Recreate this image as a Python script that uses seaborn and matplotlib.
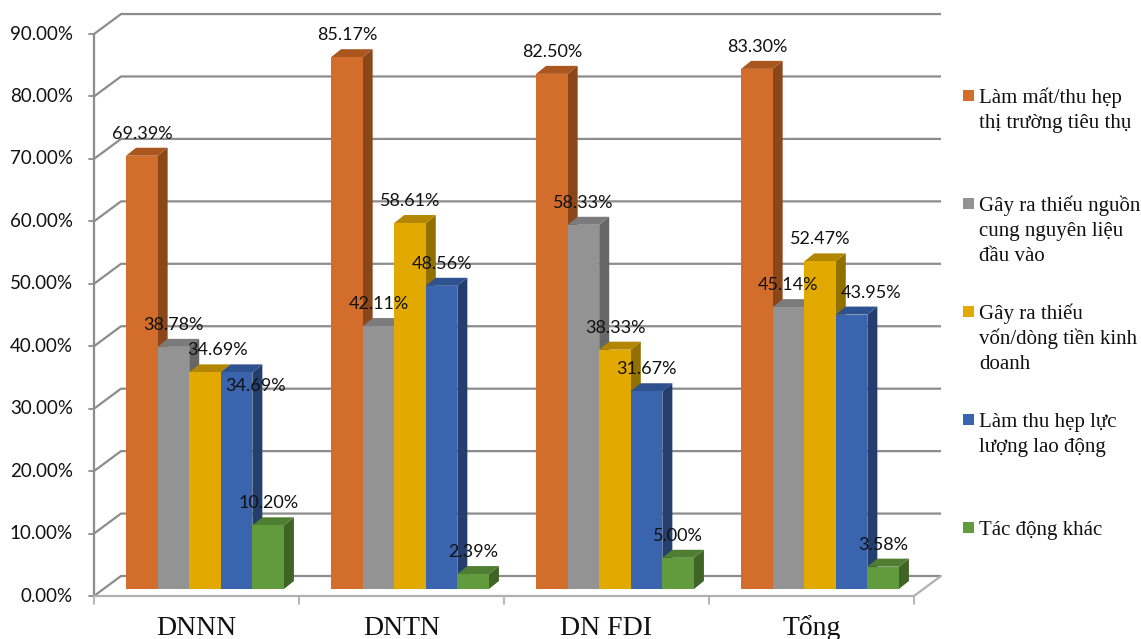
import pandas as pd
import matplotlib
matplotlib.use('Agg')
import matplotlib.pyplot as plt
import seaborn as sns
from matplotlib.patches import Polygon, Rectangle

# Chart data
categories = ['DNNN', 'DNTN', 'DN FDI', 'Tổng']
series_names = [
    'Làm mất/thu hẹp\nthị trường tiêu thụ',
    'Gây ra thiếu nguồn\ncung nguyên liệu\nđầu vào',
    'Gây ra thiếu\nvốn/dòng tiền kinh\ndoanh',
    'Làm thu hẹp lực\nlượng lao động',
    'Tác động khác',
]
mat_thi_truong = [69.39, 85.17, 82.50, 83.30]
thieu_nguyen_lieu = [38.78, 42.11, 58.33, 45.14]
thieu_von = [34.69, 58.61, 38.33, 52.47]
thu_hep_lao_dong = [34.69, 48.56, 31.67, 43.95]
tac_dong_khac = [10.20, 2.39, 5.00, 3.58]
y_ticks = [0, 10, 20, 30, 40, 50, 60, 70, 80, 90]

all_values = [mat_thi_truong, thieu_nguyen_lieu, thieu_von, thu_hep_lao_dong, tac_dong_khac]
df = pd.DataFrame([
    {'cat': c, 'series': s, 'val': v}
    for s, vals in zip(series_names, all_values)
    for c, v in zip(categories, vals)
])

# Colours: front, top, side
front_cols = ['#D26D2B', '#939393', '#E2AA00', '#3A64AE', '#629B3D']
top_cols = ['#A9561F', '#7B7B7B', '#B38600', '#2E5190', '#4F7D31']
side_cols = ['#8B4619', '#666666', '#927000', '#243F6E', '#3F6426']

# Pixel <-> data mapping (figure is 1141 x 639 px)
W, H = 1141, 639
PITCH = 205.0      # px per category
X0 = 205.0         # px of first category centre (bar plane)
Y0 = 589.0         # px of 0% (bar plane)
PPU = 6.244        # px per percent

def dx(px):
    return px / PITCH

def dy(px):
    return px / PPU

# depth offsets relative to the bar plane
FDX, FDY = dx(-8.5), dy(-7)     # front plane
BDX, BDY = dx(18.5), dy(13)     # back wall
SDX, SDY = dx(10), dy(8)        # bar depth

sns.set_style('white')
fig = plt.figure(figsize=(W / 100, H / 100), dpi=100)
ax = fig.add_axes([0, 0, 1, 1])

sns.barplot(data=df, x='cat', y='val', hue='series', order=categories,
            hue_order=series_names, palette=front_cols, width=0.77,
            saturation=1, linewidth=0, errorbar=None, legend=False, ax=ax)

ax.set_xlim(-X0 / PITCH, (W - X0) / PITCH)
ax.set_ylim((Y0 - H) / PPU, Y0 / PPU)
ax.axis('off')

# Walls, gridlines and floor
grid_col = '#8c8c8c'
left, right = -0.5, len(categories) - 0.5
for v in y_ticks:
    ax.plot([left + FDX, left + BDX, right + BDX], [v + FDY, v + BDY, v + BDY],
            color=grid_col, lw=1.6, zorder=1, solid_capstyle='butt')
    ax.plot([left + FDX - dx(5), left + FDX], [v + FDY, v + FDY], color=grid_col, lw=1.3, zorder=1)
    ax.text(left + FDX - dx(21), v + FDY, f'{v:.2f}%', ha='right', va='center',
            fontsize=13.5, family='Lato', color='#111111')
ax.plot([left + FDX, left + FDX], [FDY, y_ticks[-1] + FDY], color=grid_col, lw=1.6, zorder=1)
ax.plot([left + FDX, right + FDX, right + BDX], [FDY, FDY, BDY],
        color='#b0b0b0', lw=1.6, zorder=1)
for k in range(len(categories) + 1):
    ax.plot([left + k + FDX] * 2, [FDY, FDY - dy(8)], color='#b0b0b0', lw=1.3, zorder=1)
for k, c in enumerate(categories):
    ax.text(k + FDX, (Y0 - 635) / PPU, c, ha='center', va='baseline',
            fontsize=20, family='Liberation Serif', color='#111111')

# 3D faces on top of seaborn bars
label_shift = {(0, 2): (12, 0), (0, 3): (19, -36), (3, 3): (19, 0)}
bars = list(ax.patches)
for p in bars:
    x, w, h = p.get_x(), p.get_width(), p.get_height()
    xc = x + w / 2
    k = int(round(xc))
    j = int(round((xc - k + 0.385 - 0.077) / 0.154))
    z = 2 + 2 * j
    p.set_zorder(z + 1)
    ax.add_patch(Polygon([(x + w, 0), (x + w + SDX, SDY), (x + w + SDX, h + SDY), (x + w, h)],
                         closed=True, facecolor=side_cols[j], edgecolor='none', zorder=z))
    ax.add_patch(Polygon([(x, h), (x + SDX, h + SDY), (x + w + SDX, h + SDY), (x + w, h)],
                         closed=True, facecolor=top_cols[j], edgecolor='none', zorder=z))
    sx, sy = label_shift.get((k, j), (0, 0))
    ax.text(xc + dx(sx), h + dy(22 + sy), f'{h:.2f}%', ha='center', va='center',
            fontsize=13, family='Lato', color='#111111', zorder=20)

# Legend (drawn by hand, marker aligned with first line)
for i, name in enumerate(series_names):
    base = 103 + 108 * i
    fig.patches.append(Rectangle((963 / W, 1 - (base - 2) / H), 11 / W, 11 / H,
                                 transform=fig.transFigure, facecolor=front_cols[i],
                                 edgecolor='none'))
    for n, line in enumerate(name.split('\n')):
        fig.text(979 / W, 1 - (base + 25 * n) / H, line, ha='left', va='baseline',
                 fontsize=15, family='Liberation Serif', color='#111111')

fig.savefig('out.png', dpi=100)
